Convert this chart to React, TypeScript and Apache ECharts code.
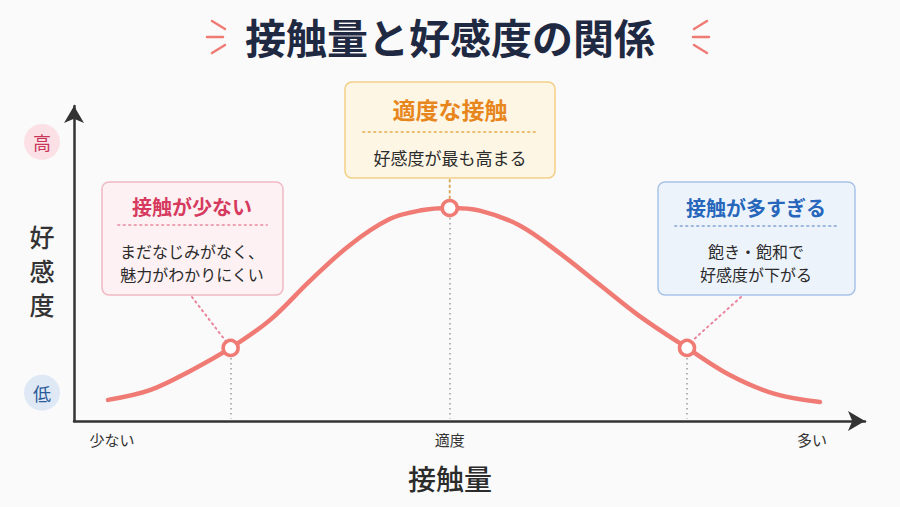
import React, { useEffect, useRef } from "react";
import * as echarts from "echarts";

const FONT = '"Noto Sans CJK JP", "Noto Sans", sans-serif';

// bell curve (x: contact amount 0-100, y: liking 0-100)
const curveX = [4.3, 9.6, 14.7, 19.8, 24.8, 29.8, 34.9, 39.9, 43.7, 47.5, 51.3, 56.4, 61.4, 66.5, 71.5, 77.5, 82.9, 88.6, 94.3];
const curveY = [6.7, 9.8, 15.9, 23.2, 32.1, 44.4, 55.9, 64.1, 66.8, 67.6, 66.8, 62.0, 53.3, 43.2, 33.3, 23.2, 14.6, 8.6, 6.0];

// highlighted points
const keyX = [19.8, 47.5, 77.5];
const keyY = [23.2, 67.6, 23.2];

// axis tick labels
const xTickValues = [4.8, 47.5, 93.3];
const xTickLabels = ["少ない", "適度", "多い"];
const yTickValues = [9.0, 88.6];
const yTickLabels = ["低", "高"];

const titleText = "接触量と好感度の関係";
const xName = "接触量";
const yName = "好感度";

const boxTitles = ["接触が少ない", "適度な接触", "接触が多すぎる"];
const boxBodies = ["まだなじみがなく、\n魅力がわかりにくい", "好感度が最も高まる", "飽き・飽和で\n好感度が下がる"];

const CURVE = "#f07a74";

export default function App() {
  const ref = useRef<HTMLDivElement>(null);
  useEffect(() => {
    if (!ref.current) return;
    const chart = echarts.init(ref.current, null, { renderer: "svg" });
    const curve = curveX.map((x, i) => [x, curveY[i]]);
    const keys = keyX.map((x, i) => [x, keyY[i]]);

    const deco = (pts: number[][]) =>
      pts.map((p) => ({
        type: "line",
        shape: { x1: p[0], y1: p[1], x2: p[2], y2: p[3] },
        style: { stroke: CURVE, lineWidth: 2.5, lineCap: "round" },
      }));

    const text = (x: number, y: number, t: string, font: string, fill: string, lh?: number) => ({
      type: "text",
      x,
      y,
      style: { text: t, font, fill, align: "center", verticalAlign: "middle", lineHeight: lh },
    });
    const dotted = (x1: number, y1: number, x2: number, y2: number, stroke: string, w = 2) => ({
      type: "line",
      shape: { x1, y1, x2, y2 },
      style: { stroke, lineWidth: w, lineDash: [1.5, 4], lineCap: "round" },
    });
    const rect = (x: number, y: number, w: number, h: number, fill: string, stroke: string) => ({
      type: "rect",
      shape: { x, y, width: w, height: h, r: 7 },
      style: { fill, stroke, lineWidth: 1.5 },
    });

    const baseOption: any = {
      animation: false,
      backgroundColor: "#fafafa",
      textStyle: { fontFamily: FONT },
      title: {
        text: titleText,
        left: "center",
        top: 10,
        textStyle: { fontSize: 41, fontWeight: "bold", color: "#1f2942", fontFamily: FONT },
      },
      grid: { left: 74, right: 35, top: 106, bottom: 86 },
      xAxis: {
        type: "value",
        min: 0,
        max: 100,
        axisLine: {
          show: true,
          symbol: ["none", "arrow"],
          symbolSize: [15, 17],
          lineStyle: { color: "#333", width: 2.5 },
        },
        axisTick: { show: false },
        splitLine: { show: false },
        axisLabel: {
          customValues: xTickValues,
          margin: 11,
          fontSize: 15,
          color: "#333",
          fontFamily: FONT,
          formatter: (v: number) => {
            const i = xTickValues.findIndex((t) => Math.abs(t - v) < 0.01);
            return i >= 0 ? xTickLabels[i] : "";
          },
        },
      },
      yAxis: {
        type: "value",
        min: 0,
        max: 100,
        axisLine: {
          show: true,
          symbol: ["none", "arrow"],
          symbolSize: [15, 17],
          lineStyle: { color: "#333", width: 2.5 },
        },
        axisTick: { show: false },
        splitLine: { show: false },
        axisLabel: {
          customValues: yTickValues,
          margin: 14,
          formatter: (v: number) => {
            const i = yTickValues.findIndex((t) => Math.abs(t - v) < 0.01);
            if (i < 0) return "";
            return i === 0 ? `{lo|${yTickLabels[i]}}` : `{hi|${yTickLabels[i]}}`;
          },
          rich: {
            hi: {
              width: 36, height: 36, lineHeight: 36, align: "center", borderRadius: 18,
              backgroundColor: "#fbe1e5", color: "#c8365a", fontSize: 18, fontFamily: FONT,
            },
            lo: {
              width: 36, height: 36, lineHeight: 36, align: "center", borderRadius: 18,
              backgroundColor: "#dfe9f6", color: "#2c5a99", fontSize: 18, fontFamily: FONT,
            },
          },
        },
      },
      series: [
        {
          type: "line",
          data: curve,
          smooth: 0.35,
          symbol: "none",
          lineStyle: { color: CURVE, width: 4.5, cap: "round" },
          z: 2,
          markLine: {
            silent: true,
            symbol: "none",
            label: { show: false },
            lineStyle: { color: "#9a9a9a", width: 1.5, type: [1.5, 3.5] },
            data: keys.map((k) => [{ coord: [k[0], k[1]] }, { coord: [k[0], 0.8] }]),
          },
        },
        {
          type: "scatter",
          data: keys,
          symbol: "circle",
          symbolSize: 15,
          itemStyle: { color: "#ffffff", borderColor: CURVE, borderWidth: 3.5, opacity: 1 },
          z: 5,
        },
      ],
    };
    chart.setOption(baseOption);

    const p = keys.map((k) => chart.convertToPixel({ gridIndex: 0 }, k) as number[]);

    const graphic: any[] = [
      ...deco([
        [212, 21, 225, 29],
        [207, 37, 223, 37],
        [212, 53, 225, 45],
        [707, 21, 694, 29],
        [709, 37, 693, 37],
        [707, 53, 694, 45],
      ]),
      // axis names
      ...yName.split("").map((ch, i) => text(42, 236 + i * 34, ch, `500 25px ${FONT}`, "#333333")),
      text(450, 478, xName, `500 28px ${FONT}`, "#2b2b2b"),
      // connectors
      dotted(192, 297, p[0][0] - 5, p[0][1] - 7, "#e9849c"),
      dotted(p[1][0], 180, p[1][0], p[1][1] - 9, "#d9aa55"),
      dotted(741, 297, p[2][0] + 5, p[2][1] - 7, "#e9849c"),
      // left box
      rect(102, 182, 181, 113, "#fdf1f3", "#f1b9c3"),
      text(192, 206, boxTitles[0], `bold 20px ${FONT}`, "#d63a5e"),
      dotted(118, 225, 267, 225, "#eda3b4"),
      text(192, 262, boxBodies[0], `16px ${FONT}`, "#2b2b2b", 23),
      // center box
      rect(345, 82, 210, 96, "#fdf6e4", "#f3cf86"),
      text(450, 109, boxTitles[1], `bold 23px ${FONT}`, "#e8861e"),
      dotted(363, 132, 538, 132, "#ecc070"),
      text(450, 157, boxBodies[1], `17px ${FONT}`, "#2b2b2b"),
      // right box
      rect(658, 182, 197, 113, "#edf3fb", "#a8c3e6"),
      text(756, 207, boxTitles[2], `bold 20px ${FONT}`, "#2667bb"),
      dotted(675, 226, 840, 226, "#9db8dc"),
      text(756, 262, boxBodies[2], `16px ${FONT}`, "#2b2b2b", 23),
    ];
    chart.setOption({ graphic });

    return () => chart.dispose();
  }, []);
  return (
    <div
      ref={ref}
      style={{ position: "fixed", left: 0, top: 0, width: 900, height: 507, background: "#fafafa" }}
    />
  );
}
